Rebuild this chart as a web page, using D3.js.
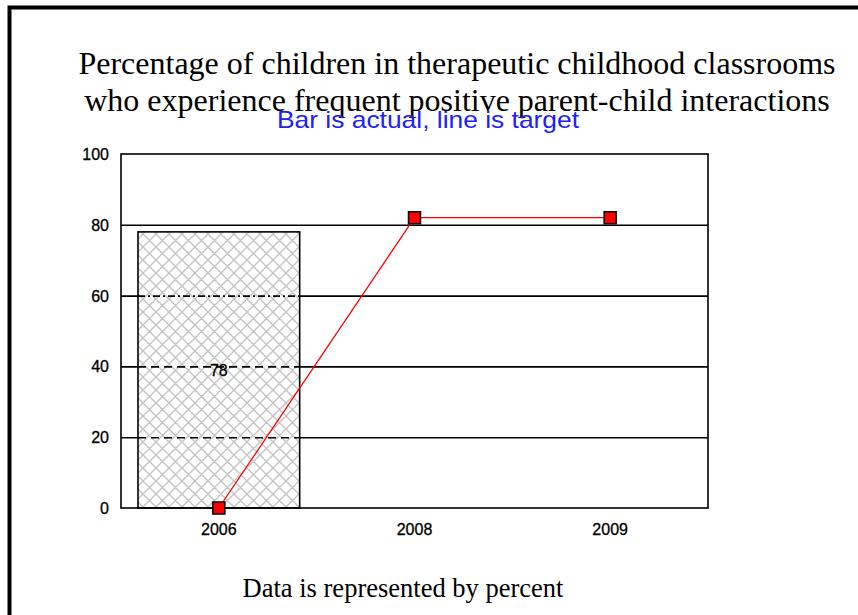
<!DOCTYPE html>
<html><head><meta charset="utf-8">
<script src="https://cdn.jsdelivr.net/npm/d3@7"></script>
<style>body{margin:0;background:#fff}svg{display:block}</style>
</head><body>
<svg id="c" width="858" height="615"></svg>
<script>
const categories = ["2006", "2008", "2009"];
const actual = [78, null, null];
const target = [0, 82, 82];
const yTicks = [0, 20, 40, 60, 80, 100];
const titleLines = ["Percentage of children in therapeutic childhood classrooms",
                    "who experience frequent positive parent-child interactions"];
const subtitle = "Bar is actual, line is target";
const footer = "Data is represented by percent";

const svg = d3.select("#c");
svg.append("rect").attr("x", 9.5).attr("y", 7.5).attr("width", 900).attr("height", 700)
  .attr("fill", "#fff").attr("stroke", "#000").attr("stroke-width", 4);

const m = {left: 121, right: 708, top: 154, bottom: 508};
const x = d3.scaleBand().domain(categories).range([m.left, m.right]).paddingInner(0).paddingOuter(0);
const y = d3.scaleLinear().domain([0, 100]).range([m.bottom, m.top]);

// pattern
const defs = svg.append("defs");
const pat = defs.append("pattern").attr("id", "hatch").attr("patternUnits", "userSpaceOnUse")
  .attr("width", 13).attr("height", 13);
pat.append("rect").attr("width", 13).attr("height", 13).attr("fill", "#fff");
pat.append("path").attr("d", "M0,0L13,13M13,0L0,13M-6.5,6.5L6.5,-6.5M6.5,19.5L19.5,6.5M-6.5,6.5L6.5,19.5M6.5,-6.5L19.5,6.5")
  .attr("stroke", "#c4c4c4").attr("stroke-width", 1.4).attr("fill", "none");

// gridlines
svg.append("g").selectAll("line").data(yTicks.filter(d => d > 0 && d < 100)).join("line")
  .attr("x1", m.left).attr("x2", m.right).attr("y1", d => y(d) + 0.5).attr("y2", d => y(d) + 0.5)
  .attr("stroke", "#000").attr("stroke-width", 1.6);

// bars
const barPad = 17;
const barData = categories.map((c, i) => ({c, v: actual[i]})).filter(d => d.v != null);
svg.append("g").selectAll("rect").data(barData).join("rect")
  .attr("x", d => x(d.c) + barPad).attr("width", x.bandwidth() - 2 * barPad)
  .attr("y", d => y(d.v)).attr("height", d => y(0) - y(d.v))
  .attr("fill", "url(#hatch)").attr("stroke", "#000").attr("stroke-width", 1.6);

// dashed gridlines across bars
barData.forEach(b => {
  const g = svg.append("g");
  yTicks.filter(t => t > 0 && t < b.v).forEach(t => {
    g.append("line").attr("x1", x(b.c) + barPad).attr("x2", x(b.c) + x.bandwidth() - barPad)
      .attr("y1", y(t) + 0.5).attr("y2", y(t) + 0.5)
      .attr("stroke", "#000").attr("stroke-width", 1.6)
      .attr("stroke-dasharray", t === 60 ? "7,3,2,3" : "8,5");
  });
});

const tickFont = "Liberation Sans, Arial, sans-serif";
// bar labels
svg.append("g").selectAll("text").data(barData).join("text")
  .attr("x", d => x(d.c) + x.bandwidth() / 2).attr("y", d => (y(d.v) + y(0)) / 2 + 6)
  .attr("text-anchor", "middle").attr("font-family", tickFont)
  .attr("font-size", 16).attr("fill", "#000").attr("stroke", "#000").attr("stroke-width", 0.3).text(d => d.v);

// plot frame
svg.append("rect").attr("x", m.left).attr("y", m.top).attr("width", m.right - m.left).attr("height", m.bottom - m.top)
  .attr("fill", "none").attr("stroke", "#000").attr("stroke-width", 1.6);

// target line
const pts = categories.map((c, i) => ({c, v: target[i]}));
svg.append("path").datum(pts)
  .attr("d", d3.line().x(d => x(d.c) + x.bandwidth() / 2).y(d => y(d.v)))
  .attr("fill", "none").attr("stroke", "#ff0000").attr("stroke-width", 1.3);
svg.append("g").selectAll("rect").data(pts).join("rect")
  .attr("x", d => x(d.c) + x.bandwidth() / 2 - 6).attr("y", d => y(d.v) - 6)
  .attr("width", 12).attr("height", 12)
  .attr("fill", "#ff0000").attr("stroke", "#000").attr("stroke-width", 1.5);

// axes labels
svg.append("g").selectAll("text").data(yTicks).join("text")
  .attr("x", 109).attr("y", d => y(d) + 6).attr("text-anchor", "end")
  .attr("font-family", tickFont).attr("font-size", 16).attr("fill", "#000")
  .attr("stroke", "#000").attr("stroke-width", 0.3)
  .text(d => d);
svg.append("g").selectAll("text").data(categories).join("text")
  .attr("x", d => x(d) + x.bandwidth() / 2).attr("y", m.bottom + 27).attr("text-anchor", "middle")
  .attr("font-family", tickFont).attr("font-size", 16).attr("fill", "#000")
  .attr("stroke", "#000").attr("stroke-width", 0.3)
  .text(d => d);

// titles
svg.append("g").selectAll("text").data(titleLines).join("text")
  .attr("x", 457).attr("y", (d, i) => 74 + i * 37).attr("text-anchor", "middle")
  .attr("font-family", "Liberation Serif, Times New Roman, serif").attr("font-size", 32).attr("fill", "#000")
  .text(d => d);
svg.append("text").attr("x", 428).attr("y", 128).attr("text-anchor", "middle")
  .attr("font-family", "Liberation Sans, Arial, sans-serif").attr("font-size", 24).attr("fill", "#2020ff")
  .attr("textLength", 302).attr("lengthAdjust", "spacingAndGlyphs")
  .text(subtitle);
svg.append("text").attr("x", 403).attr("y", 597).attr("text-anchor", "middle")
  .attr("font-family", "Liberation Serif, Times New Roman, serif").attr("font-size", 26.5).attr("fill", "#000")
  .text(footer);
</script>
</body></html>
